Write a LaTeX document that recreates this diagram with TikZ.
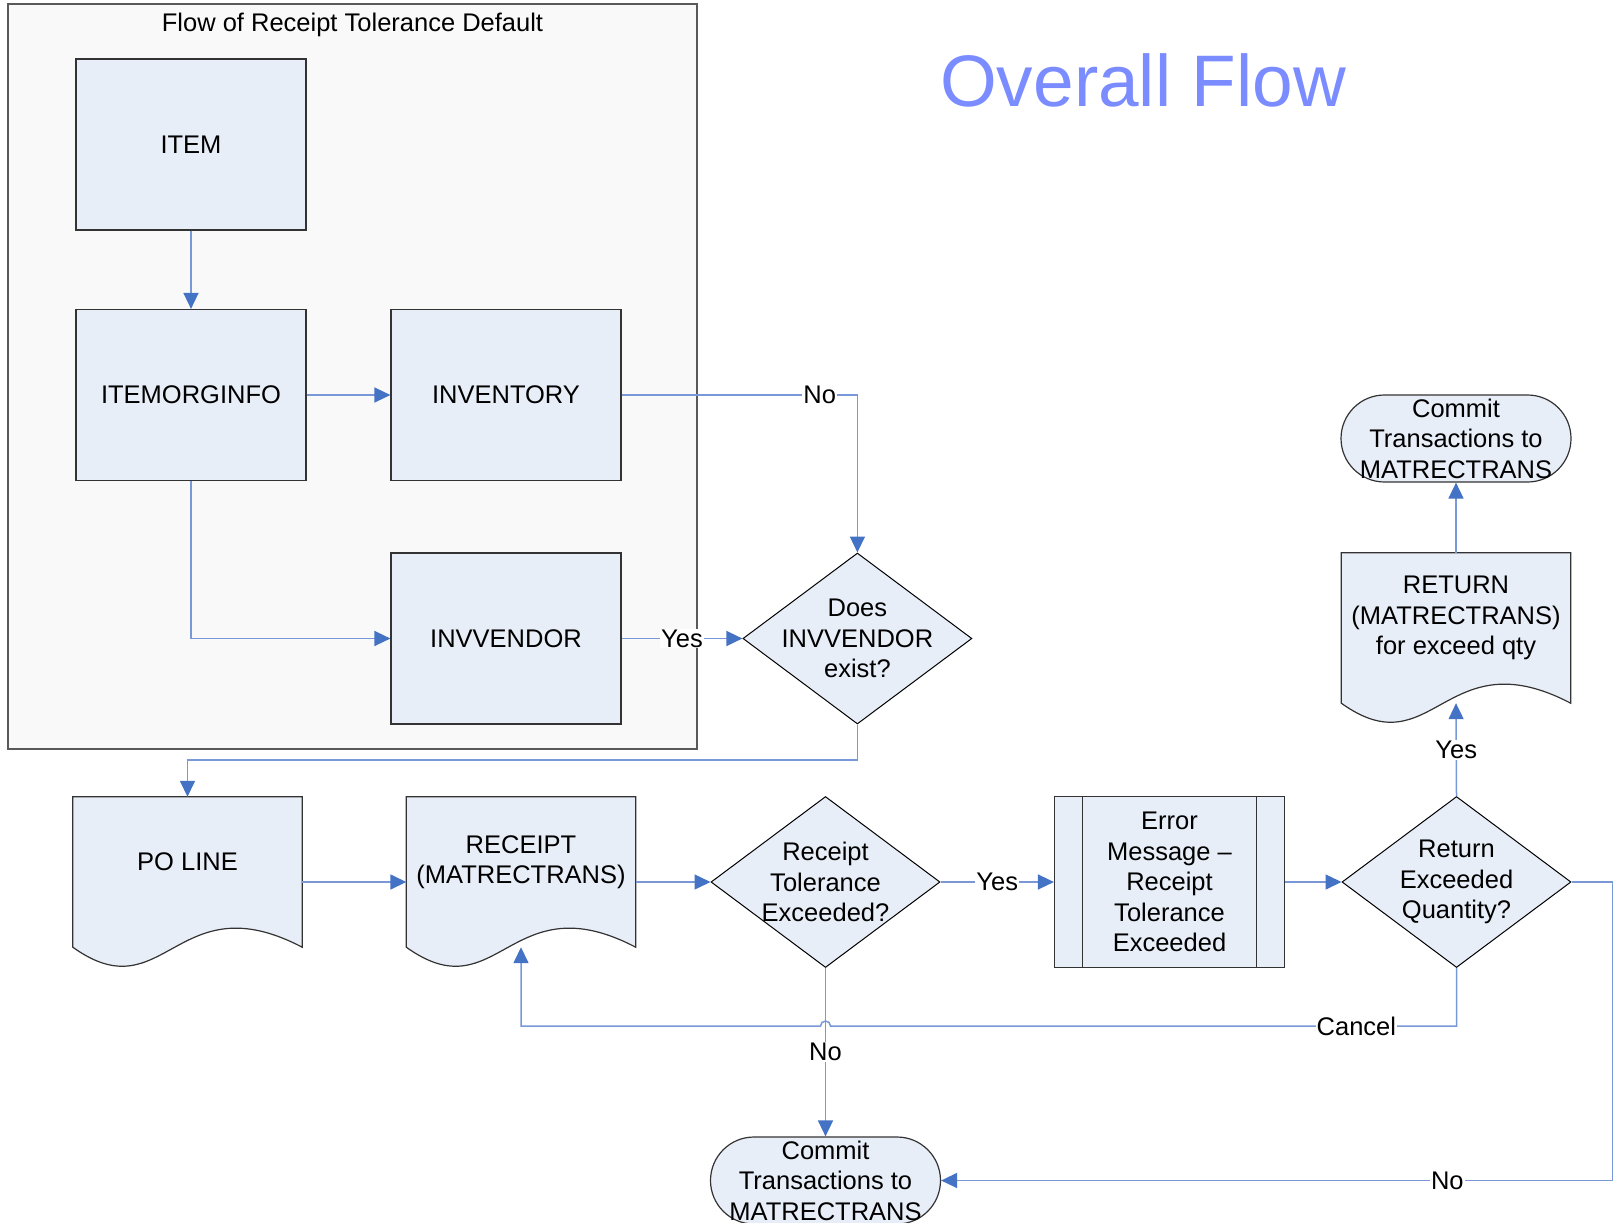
\documentclass[tikz,border=0pt]{standalone}
\usepackage{fontspec}
\setmainfont{Liberation Sans}
\usetikzlibrary{arrows.meta,shapes.geometric,backgrounds}
\definecolor{boxfill}{RGB}{232,238,248}
\definecolor{flowline}{RGB}{120,152,216}
\definecolor{flowtip}{RGB}{68,114,196}
\definecolor{titleblue}{RGB}{122,140,255}
\newcommand\nodefont{\fontsize{25.5}{30.5}\selectfont}
% document symbol: straight top and sides, wavy bottom
\newcommand\docshape[1]{%
  \begin{scope}[on background layer]
    \filldraw[boxline] (#1.north west) -- (#1.north east)
      -- ([shift={(0,20)}]#1.south east)
      .. controls ([shift={(-126,-46)}]#1.south east) and ([shift={(92,86)}]#1.south west)
      .. ([shift={(0,20)}]#1.south west) -- cycle;
  \end{scope}}
\tikzset{
  boxline/.style={draw=black!80, line width=1.2pt, fill=boxfill},
  box/.style={boxline, rectangle, minimum width=230pt, minimum height=171pt, align=center, font=\nodefont},
  doc/.style={rectangle, minimum width=229pt, minimum height=130pt, inner sep=2pt, align=center, font=\nodefont},
  decision/.style={diamond, draw=black, line width=1pt, fill=boxfill, minimum width=229pt, minimum height=171pt, inner sep=0pt},
  dtext/.style={align=center, font=\nodefont},
  term/.style={boxline, rectangle, rounded corners=43.5pt, minimum width=230pt, minimum height=87pt, inner sep=0pt, align=center, font=\nodefont},
  flow/.style={draw=flowline, line width=1.5pt, -{Triangle[length=16pt,width=15pt,color=flowtip]}},
  lbl/.style={fill=white, inner sep=1pt, font=\nodefont},
}
\begin{document}
\begin{tikzpicture}[x=1pt,y=-1pt]
  \useasboundingbox (0,0) rectangle (1614,1223);
  % group frame
  \draw[draw=black!65, line width=1.2pt, fill=black!2.5] (8,4) rectangle (697,749);
  \node[font=\nodefont] (grouptitle) at (352.5,25) {Flow of Receipt Tolerance Default};
  \node[font=\fontsize{73}{80}\selectfont, text=titleblue] (maintitle) at (1143,80) {Overall Flow};

  \node[box] (item) at (191,144.5) {ITEM};
  \node[box] (iorg) at (191,395) {ITEMORGINFO};
  \node[box] (inv) at (506,395) {INVENTORY};
  \node[box] (invv) at (506,638.5) {INVVENDOR};
  \node[decision, label={[dtext]center:Does\\INVVENDOR\\exist?}] (dinv) at (857.4,638.5) {};

  \node[doc] (poline) at (187.5,862) {PO LINE};
  \docshape{poline}
  \node[doc] (rcpt) at (521,862) {RECEIPT\\(MATRECTRANS)};
  \docshape{rcpt}
  \node[decision, label={[dtext]center:Receipt\\Tolerance\\Exceeded?}] (drcpt) at (825.5,882) {};
  \node[box] (err) at (1169.5,882) {Error\\Message --\\Receipt\\Tolerance\\Exceeded};
  \draw[boxline] ([xshift=28.5pt]err.north west) -- ([xshift=28.5pt]err.south west);
  \draw[boxline] ([xshift=-28.5pt]err.north east) -- ([xshift=-28.5pt]err.south east);
  \node[decision, label={[dtext]center:Return\\Exceeded\\Quantity?}] (dret) at (1456.5,882) {};
  \node[doc] (ret) at (1456,618) {RETURN\\(MATRECTRANS)\\for exceed qty};
  \docshape{ret}
  \node[term] (ctop) at (1456,438.5) {Commit\\Transactions to\\MATRECTRANS};
  \node[term] (cbot) at (825.5,1180.5) {Commit\\Transactions to\\MATRECTRANS};

  \coordinate (rcptin) at ([shift={(0,20)}]rcpt.south);
  \coordinate (retin) at ([shift={(0,20)}]ret.south);
  \coordinate (hop) at (drcpt.south |- dret.south);

  \draw[flow] (item) -- (iorg);
  \draw[flow] (iorg) -- (inv);
  \draw[flow] (iorg.south) |- (invv.west);
  \draw[flow] (inv.east) -| node[lbl, pos=0.42] {No} (dinv.north);
  \draw[flow] (invv.east) -- node[lbl] {Yes} (dinv.west);
  \draw[flow] (dinv.south) -- ++(0,35.6) -| (poline.north);
  \draw[flow] ([yshift=-20pt]poline.east) -- ([yshift=-20pt]rcpt.west);
  \draw[flow] ([yshift=-20pt]rcpt.east) -- (drcpt.west);
  \draw[flow] (drcpt.east) -- node[lbl] {Yes} (err.west);
  \draw[flow] (err.east) -- (dret.west);
  \draw[flow] (dret.north) -- node[lbl] {Yes} (retin);
  \draw[flow] (ret.north) -- (ctop.south);
  \draw[flow] (drcpt.south) -- node[lbl] {No} (cbot.north);
  \draw[flow] (dret.south) -- ++(0,58) -- node[lbl, pos=0.16] {Cancel} ([shift={(5,58)}]hop)
    arc (0:-180:5) -| (rcptin);
  \draw[flow] (dret.east) -- ++(41,0) |- node[lbl, pos=0.623] {No} (cbot.east);
\end{tikzpicture}
\end{document}
